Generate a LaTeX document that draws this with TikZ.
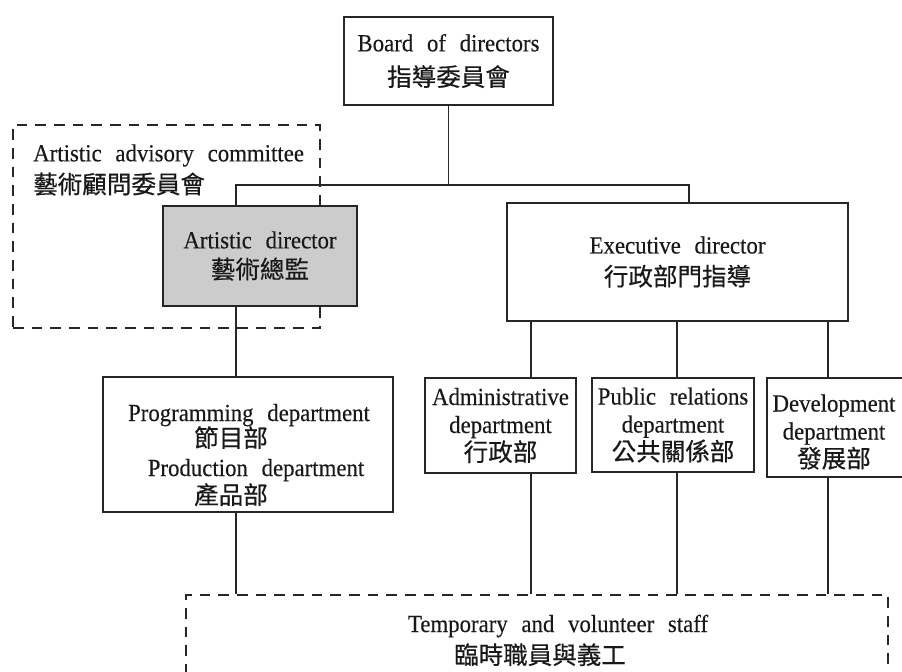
\documentclass[tikz,border=0pt]{standalone}
\usepackage{fontspec}
\setmainfont{Liberation Serif}[FakeStretch=0.93, WordSpace=2.4, FakeBold=0.25]
\newfontfamily\cjk{Noto Sans CJK TC}[FakeBold=0.45]
\begin{document}
\begin{tikzpicture}[x=0.75pt,y=-0.75pt,
  frame/.style={draw=black!85, line width=1.4pt, fill=white, inner sep=0pt,
    align=center, text=black!90, font=\fontsize{18.4}{21}\selectfont},
  dashframe/.style={draw=black!85, line width=1.4pt, dash pattern=on 8pt off 6pt,
    inner sep=0pt},
  link/.style={draw=black!85, line width=1.1pt},
  txt/.style={inner sep=0pt, text=black!90, font=\fontsize{18.4}{21}\selectfont}
]
\clip (0,0) rectangle (902,671);
\fill[white] (0,0) rectangle (902,671);

% dashed groupings
\node[dashframe, minimum width=230.25pt, minimum height=152.25pt] (advisory) at (166.5,226.5) {};
\node[txt, anchor=west, align=left, font=\fontsize{18.4}{24}\selectfont] (advisorytext) at (33,170)
  {Artistic advisory committee\\{\cjk 藝術顧問委員會}};
\node[dashframe, minimum width=526.5pt, minimum height=71.25pt] (temp) at (537,642.5) {};
\node[txt, anchor=base] (tempA) at (558,632) {Temporary and volunteer staff};
\node[txt, anchor=base] (tempB) at (540,664) {\cjk 臨時職員與義工};

% connector columns
\coordinate (busL) at (236,185);
\coordinate (busR) at (689,185);
\coordinate (colA) at (531,0);
\coordinate (colB) at (677,0);
\coordinate (colC) at (828,0);

% boxes
\node[frame, minimum width=156.75pt, minimum height=66pt, font=\fontsize{18.4}{26}\selectfont] (board) at (448.5,61)
  {Board of directors\\{\cjk 指導委員會}};
\node[frame, fill=gray!40, minimum width=145.5pt, minimum height=75pt, font=\fontsize{18.4}{22.5}\selectfont] (artistic) at (260,256)
  {Artistic director\\{\cjk 藝術總監}};
\node[frame, minimum width=255.75pt, minimum height=88.5pt, font=\fontsize{18.4}{24}\selectfont] (exec) at (677.5,262)
  {Executive director\\{\cjk 行政部門指導}};
\node[frame, minimum width=217.5pt, minimum height=101.25pt] (prog) at (248,444.5) {};
\node[frame, minimum width=113.25pt, minimum height=71.25pt] (admin) at (500.5,425.5)
  {Administrative\\department\\{\cjk 行政部}};
\node[frame, minimum width=121.5pt, minimum height=70.5pt] (pr) at (673,425)
  {Public relations\\department\\{\cjk 公共關係部}};
\node[frame, minimum width=107.25pt, minimum height=74.25pt] (dev) at (838.5,427.5) {};
\node[txt, align=center] (devtext) at (834,432)
  {Development\\department\\{\cjk 發展部}};

% text lines of the programming / production box
\node[txt, anchor=base] (progA) at (249,421) {Programming department};
\node[txt, anchor=base] (progB) at (231,447) {\cjk 節目部};
\node[txt, anchor=base] (progC) at (256,476) {Production department};
\node[txt, anchor=base] (progD) at (231,504) {\cjk 產品部};

% connectors
\draw[link] (board.south) -- (board.south |- busL);
\draw[link] (busL |- artistic.north) -- (busL) -- (busR) -- (busR |- exec.north);
\draw[link] (busL |- artistic.south) -- (busL |- prog.north);
\draw[link] (colA |- exec.south) -- (colA |- admin.north);
\draw[link] (colB |- exec.south) -- (colB |- pr.north);
\draw[link] (colC |- exec.south) -- (colC |- dev.north);
\draw[link] (busL |- prog.south) -- (busL |- temp.north);
\draw[link] (colA |- admin.south) -- (colA |- temp.north);
\draw[link] (colB |- pr.south) -- (colB |- temp.north);
\draw[link] (colC |- dev.south) -- (colC |- temp.north);
\end{tikzpicture}
\end{document}
